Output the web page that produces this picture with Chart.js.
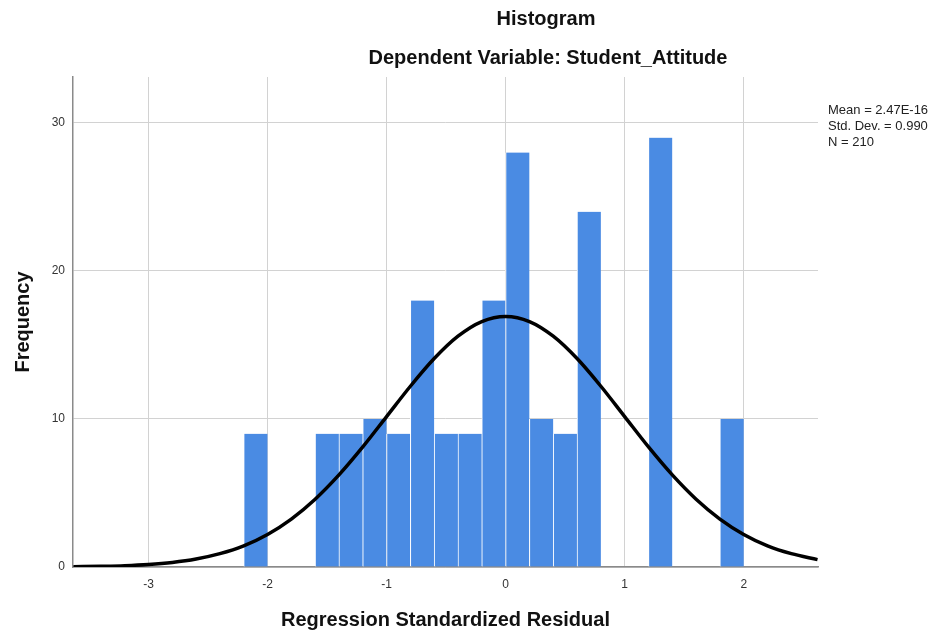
<!DOCTYPE html>
<html>
<head>
<meta charset="utf-8">
<script src="https://cdn.jsdelivr.net/npm/chart.js@4"></script>
<style>
  html, body { margin: 0; padding: 0; background: #fff; }
  #wrap { width: 936px; height: 639px; }
</style>
</head>
<body>
<div id="wrap"><canvas id="hist"></canvas></div>
<script>
// Histograma de residuos estandarizados
const binCenters  = [-2.1, -1.9, -1.7, -1.5, -1.3, -1.1, -0.9, -0.7, -0.5, -0.3, -0.1,
                     0.1, 0.3, 0.5, 0.7, 0.9, 1.1, 1.3, 1.5, 1.7, 1.9];
const frequencies = [9, 0, 0, 9, 9, 10, 9, 18, 9, 9, 18,
                     28, 10, 9, 24, 0, 0, 29, 0, 0, 10];

// Curva normal superpuesta, puntos estimados sobre el gráfico
const curveX = [-3.63, -3.4, -3.2, -3.0, -2.8, -2.6, -2.4, -2.2, -2.0, -1.8, -1.6, -1.4, -1.2, -1.0, -0.8, -0.6,
                -0.4, -0.2, 0, 0.2, 0.4, 0.6, 0.8, 1.0, 1.2, 1.4, 1.6, 1.8, 2.0, 2.2, 2.4, 2.62];
const curveY = [0.02, 0.05, 0.09, 0.17, 0.31, 0.54, 0.90, 1.43, 2.20, 3.24, 4.58, 6.22, 8.11, 10.16, 12.21, 14.08,
                15.59, 16.58, 16.92, 16.58, 15.59, 14.08, 12.21, 10.16, 8.11, 6.22, 4.58, 3.24, 2.20, 1.43, 0.90, 0.50];

const xTicks = [-3, -2, -1, 0, 1, 2];
const yTicks = [0, 10, 20, 30];

const titleLines = ['Histogram', 'Dependent Variable: Student_Attitude'];
const statsLines = ['Mean = 2.47E-16', 'Std. Dev. = 0.990', 'N = 210'];

const FONT = "'Liberation Sans', Arial, sans-serif";
const BAR_COLOR = '#4a8be3';

// Títulos y cuadro de estadísticos
const spssText = {
  id: 'spssText',
  afterDraw(chart) {
    const ctx = chart.ctx;
    const area = chart.chartArea;
    ctx.save();
    ctx.fillStyle = '#111';
    ctx.textAlign = 'center';
    ctx.textBaseline = 'middle';
    ctx.font = `bold 20px ${FONT}`;
    ctx.fillText(titleLines[0], 546, 19);
    ctx.fillText(titleLines[1], 548, 58);

    ctx.textAlign = 'left';
    ctx.font = `13px ${FONT}`;
    ctx.fillStyle = '#222';
    statsLines.forEach((t, i) => ctx.fillText(t, area.right + 10, 110 + i * 16));
    ctx.restore();
  }
};

new Chart(document.getElementById('hist'), {
  type: 'bar',
  data: {
    datasets: [
      {
        type: 'line',
        label: 'Normal',
        data: curveX.map((x, i) => ({ x, y: curveY[i] })),
        borderColor: '#000',
        borderWidth: 3.5,
        pointRadius: 0,
        cubicInterpolationMode: 'monotone',
        fill: false,
        order: 0,
      },
      {
        type: 'bar',
        label: 'Frequency',
        data: binCenters.map((x, i) => ({ x, y: frequencies[i] })),
        backgroundColor: BAR_COLOR,
        borderColor: '#fff',
        borderWidth: { left: 1, right: 0, top: 0, bottom: 0 },
        borderSkipped: false,
        barPercentage: 1,
        categoryPercentage: 1,
        order: 1,
      }
    ]
  },
  options: {
    responsive: true,
    maintainAspectRatio: false,
    animation: false,
    layout: { padding: { top: 77, right: 118, left: 0, bottom: 0 } },
    plugins: {
      legend: { display: false },
      tooltip: { enabled: false }
    },
    scales: {
      x: {
        type: 'linear',
        min: -3.634, max: 2.624,
        offset: false,
        afterFit: s => { s.height = 72; },
        afterBuildTicks: s => { s.ticks = xTicks.map(v => ({ value: v })); },
        grid: { color: '#d2d2d2', drawTicks: false, offset: false },
        border: { display: true, color: '#8a8a8a', width: 1.5 },
        ticks: { font: { family: FONT, size: 12 }, color: '#333', padding: 10 },
        title: {
          display: true,
          text: 'Regression Standardized Residual',
          font: { family: FONT, size: 20, weight: 'bold' },
          color: '#111',
          padding: { top: 0, bottom: 7 }
        }
      },
      y: {
        min: 0, max: 33.1,
        afterFit: s => { s.width = 73; },
        afterBuildTicks: s => { s.ticks = yTicks.map(v => ({ value: v })); },
        grid: { color: '#d2d2d2', drawTicks: false },
        border: { display: true, color: '#8a8a8a', width: 1.5 },
        ticks: { font: { family: FONT, size: 12 }, color: '#333', padding: 8 },
        title: {
          display: true,
          text: 'Frequency',
          font: { family: FONT, size: 20, weight: 'bold' },
          color: '#111',
          padding: { top: 11, bottom: 0 }
        }
      }
    }
  },
  plugins: [spssText]
});
</script>
</body>
</html>
